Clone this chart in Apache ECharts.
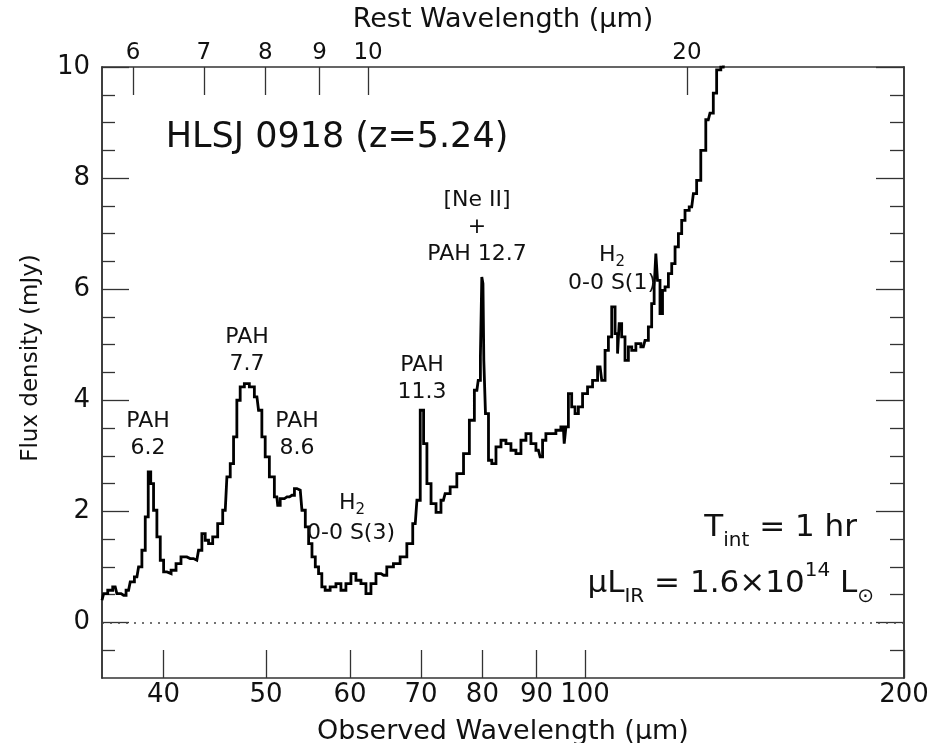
<!DOCTYPE html>
<html>
<head>
<meta charset="utf-8">
<script src="https://cdn.jsdelivr.net/npm/echarts@6.0.0/dist/echarts.min.js"></script>
<style>
  html, body { margin: 0; padding: 0; background: #fff; }
  #chart { width: 928px; height: 743px; }
</style>
</head>
<body>
<div id="chart"></div>
<script>
// spectrum (observed wavelength in um, flux in mJy)
const obsWave = [
  35.0, 35.25, 35.63, 36.02, 36.28, 36.68, 37.08, 37.35, 37.76, 38.03,
  38.31, 38.59, 38.81, 39.01, 39.29, 39.58, 39.87, 40.16, 40.45, 40.89,
  41.33, 41.78, 42.39, 43.01, 43.33, 43.64, 43.96, 44.28, 44.76, 45.25,
  45.75, 46.08, 46.42, 46.75, 47.09, 47.43, 47.95, 48.47, 49.01, 49.36,
  49.72, 50.08, 50.63, 51.18, 51.37, 51.74, 52.32, 52.89, 53.46, 53.85,
  54.25, 54.64, 55.04, 55.44, 55.84, 56.23, 56.64, 57.05, 57.88, 58.51,
  59.15, 59.79, 60.45, 61.11, 61.78, 62.45, 63.14, 63.83, 64.53, 65.46,
  66.42, 67.39, 68.39, 69.14, 69.64, 70.15, 70.66, 71.17, 71.94, 72.73,
  73.5, 74.05, 75.13, 76.23, 77.35, 78.19, 79.05, 79.51, 79.80, 80.0,
  80.2, 80.30, 80.78, 81.36, 81.95, 82.85, 83.75, 84.66, 85.59, 86.52,
  87.47, 88.42, 89.39, 90.36, 91.02, 91.34, 92.34, 93.35, 94.37, 95.39,
  95.75, 96.10, 96.78, 97.49, 98.20, 98.92, 100.0, 101.09, 102.20, 103.32,
  104.06, 104.83, 105.58, 106.35, 107.13, 107.50, 107.89, 108.67, 109.47, 110.28,
  111.07, 112.28, 113.50, 114.34, 115.16, 115.99, 116.41, 116.85, 117.26, 118.12,
  118.55, 119.42, 120.29, 121.16, 122.05, 122.93, 123.81, 124.72, 126.09, 126.99,
  127.90, 129.30, 130.71, 131.67, 132.62, 133.59, 135.04, 136.0
]
const flux = [
  0.40, 0.52, 0.58, 0.64, 0.52, 0.49, 0.58, 0.73, 0.82, 1.00,
  1.30, 1.90, 2.71, 2.50, 2.02, 1.54, 1.12, 0.91, 0.88, 0.94,
  1.06, 1.18, 1.15, 1.12, 1.30, 1.60, 1.48, 1.42, 1.54, 1.78,
  2.02, 2.62, 2.86, 3.34, 4.00, 4.24, 4.30, 4.24, 4.06, 3.82,
  3.34, 2.98, 2.62, 2.26, 2.11, 2.23, 2.26, 2.29, 2.41, 2.38,
  2.02, 1.72, 1.42, 1.18, 1.00, 0.88, 0.64, 0.58, 0.64, 0.70,
  0.58, 0.70, 0.88, 0.76, 0.70, 0.52, 0.70, 0.88, 0.85, 1.00,
  1.06, 1.18, 1.42, 1.78, 2.20, 3.82, 3.22, 2.50, 2.14, 1.98,
  2.20, 2.32, 2.44, 2.68, 3.04, 3.64, 4.18, 4.36, 4.78, 6.22,
  6.10, 4.72, 3.76, 2.92, 2.86, 3.16, 3.28, 3.22, 3.10, 3.04,
  3.28, 3.40, 3.22, 3.10, 2.98, 3.28, 3.40, 3.40, 3.46, 3.52,
  3.22, 3.52, 4.12, 3.88, 3.76, 3.88, 4.12, 4.24, 4.36, 4.60,
  4.36, 4.90, 5.14, 5.68, 5.20, 4.84, 5.38, 5.14, 4.72, 4.96,
  4.90, 5.02, 4.96, 5.08, 5.32, 5.74, 6.04, 6.64, 6.16, 5.56,
  5.98, 6.04, 6.28, 6.46, 6.76, 7.00, 7.24, 7.42, 7.48, 7.72,
  7.96, 8.50, 9.05, 9.17, 9.53, 9.95, 10.0, 10.3
]

const redshift = 5.24
const obsTicks = [40, 50, 60, 70, 80, 90, 100, 200]
const restTicks = [6, 7, 8, 9, 10, 20]
const fluxMajor = [0, 2, 4, 6, 8, 10]
const fluxMinor = [-0.5, 0.5, 1, 1.5, 2.5, 3, 3.5, 4.5, 5, 5.5, 6.5, 7, 7.5, 8.5, 9, 9.5]

const FONT = '"DejaVu Sans", sans-serif'
const INK = '#111'

const chart = echarts.init(document.getElementById('chart'), null, { renderer: 'canvas' })

const axisLine = { show: true, onZero: false, lineStyle: { color: '#333', width: 1.5 } }
const tickStyle = { color: '#333', width: 1.3 }

// x axes: observed on the bottom, rest frame on top (same log scale)
const xBottom = {
  type: 'log', logBase: 10, min: 35, max: 200, position: 'bottom',
  axisLine,
  axisTick: { show: true, inside: true, length: 28, lineStyle: tickStyle, customValues: obsTicks },
  axisLabel: { customValues: obsTicks, fontFamily: FONT, fontSize: 26, color: INK, margin: 4 },
  minorTick: { show: false }, splitLine: { show: false }, minorSplitLine: { show: false },
  name: 'Observed Wavelength (μm)', nameLocation: 'middle', nameGap: 40,
  nameTextStyle: { fontFamily: FONT, fontSize: 27, color: INK }
}
const restObs = restTicks.map(r => r * (1 + redshift))
const xTop = {
  type: 'log', logBase: 10, min: 35, max: 200, position: 'top',
  axisLine,
  axisTick: { show: true, inside: true, length: 28, lineStyle: tickStyle, customValues: restObs },
  axisLabel: {
    customValues: restObs, fontFamily: FONT, fontSize: 23, color: INK, margin: 2,
    formatter: v => String(Math.round(v / (1 + redshift)))
  },
  splitLine: { show: false },
  name: 'Rest Wavelength (μm)', nameLocation: 'middle', nameGap: 34,
  nameTextStyle: { fontFamily: FONT, fontSize: 27, color: INK }
}

// y axes: major+minor on both sides, drawn as overlaid axes
const yAxisOf = (position, values, len, labels) => ({
  type: 'value', min: -1, max: 10, position, offset: 0,
  axisLine,
  axisTick: { show: true, inside: true, length: len, lineStyle: tickStyle, customValues: values },
  axisLabel: labels
    ? { customValues: values, fontFamily: FONT, fontSize: 26, color: INK, margin: 12 }
    : { show: false },
  splitLine: { show: false }
})

// small helper for the labels drawn on the plot
const label = (x, y, text, size, align, rich) => ({
  type: 'text', x, y, z: 10,
  style: {
    text, fill: INK, fontFamily: FONT, fontSize: size,
    align: align || 'center', verticalAlign: 'middle', lineHeight: Math.round(size * 1.22), rich
  }
})

const hRich = {
  m: { fontFamily: FONT, fontSize: 22, lineHeight: 30, verticalAlign: 'middle', fill: INK },
  s: { fontFamily: FONT, fontSize: 15, lineHeight: 15, verticalAlign: 'bottom', fill: INK }
}
const bigRich = {
  m: { fontFamily: FONT, fontSize: 31, lineHeight: 46, verticalAlign: 'middle', fill: INK },
  s: { fontFamily: FONT, fontSize: 20, lineHeight: 20, verticalAlign: 'bottom', fill: INK },
  p: { fontFamily: FONT, fontSize: 20, lineHeight: 20, verticalAlign: 'top', fill: INK }
}

chart.setOption({
  animation: false,
  backgroundColor: '#fff',
  grid: { left: 102, right: 24, top: 67, bottom: 65, containLabel: false, outerBoundsMode: 'none' },
  xAxis: [xBottom, xTop],
  yAxis: [
    yAxisOf('left', fluxMajor, 27, true),
    yAxisOf('left', fluxMinor, 13, false),
    yAxisOf('right', fluxMajor, 28, false),
    yAxisOf('right', fluxMinor, 14, false)
  ],
  series: [
    {
      type: 'line',
      xAxisIndex: 0,
      yAxisIndex: 0,
      data: obsWave.map((w, i) => [w, flux[i]]),
      step: 'middle',
      showSymbol: false,
      clip: true,
      lineStyle: { color: '#000', width: 2.8, join: 'miter' },
      markLine: {
        silent: true,
        symbol: ['none', 'none'],
        label: { show: false },
        lineStyle: { color: '#444', width: 1.5, type: [2, 6] },
        data: [{ yAxis: 0 }]
      }
    }
  ],
  graphic: [
    // y axis title, rotated
    {
      type: 'text', x: 31, y: 358, rotation: Math.PI / 2, z: 10,
      style: { text: 'Flux density (mJy)', fill: INK, fontFamily: FONT, fontSize: 23, align: 'center', verticalAlign: 'middle' }
    },
    label(337, 138, 'HLSJ 0918 (z=5.24)', 35),
    label(148, 435, 'PAH\n6.2', 22),
    label(247, 351, 'PAH\n7.7', 22),
    label(297, 435, 'PAH\n8.6', 22),
    label(422, 379, 'PAH\n11.3', 22),
    label(477, 227, '[Ne II]\n+\nPAH 12.7', 22),
    label(352, 503, '{m|H}{s|2}', 22, 'center', hRich),
    label(351, 533, '0-0 S(3)', 22),
    label(612, 255, '{m|H}{s|2}', 22, 'center', hRich),
    label(612, 283, '0-0 S(1)', 22),
    label(857, 528, '{m|T}{s|int}{m| = 1 hr}', 31, 'right', bigRich),
    label(874, 584, '{m|μL}{s|IR}{m| = 1.6×10}{p|14}{m| L}{s|⊙}', 31, 'right', bigRich)
  ]
})
</script>
</body>
</html>
